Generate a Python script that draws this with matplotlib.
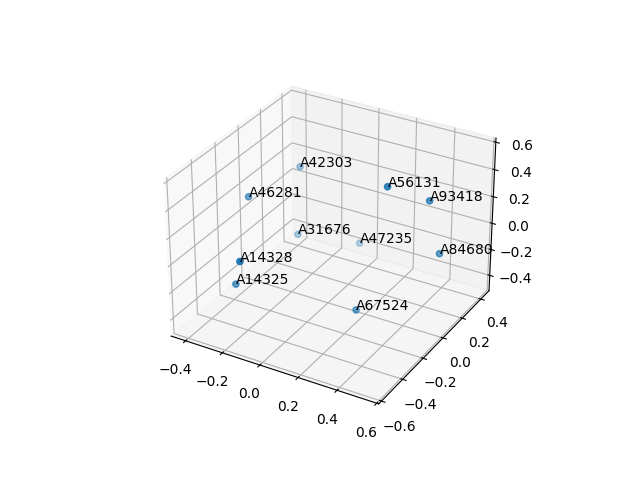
import matplotlib
matplotlib.use("Agg")
import matplotlib.pyplot as plt

labels = ["A42303", "A46281", "A56131", "A93418", "A31676",
          "A47235", "A84680", "A14328", "A14325", "A67524"]
xs = [-0.295, -0.355, 0.283, 0.428, -0.247, 0.0, 0.496, -0.161, -0.267, 0.211]
ys = [0.251, -0.122, 0.05, 0.19, 0.143, 0.309, 0.17, -0.516, -0.39, -0.108]
zs = [0.234, 0.227, 0.434, 0.296, -0.193, -0.275, -0.055, 0.097, -0.206, -0.402]

fig = plt.figure()
ax = fig.add_subplot(projection="3d")
ax.scatter(xs, ys, zs)

for x, y, z, label in zip(xs, ys, zs, labels):
    ax.text(x, y, z, label)

ax.set_xlim(-0.48, 0.61)
ax.set_ylim(-0.625, 0.49)
ax.set_zlim(-0.52, 0.63)

fig.savefig("out.png")
